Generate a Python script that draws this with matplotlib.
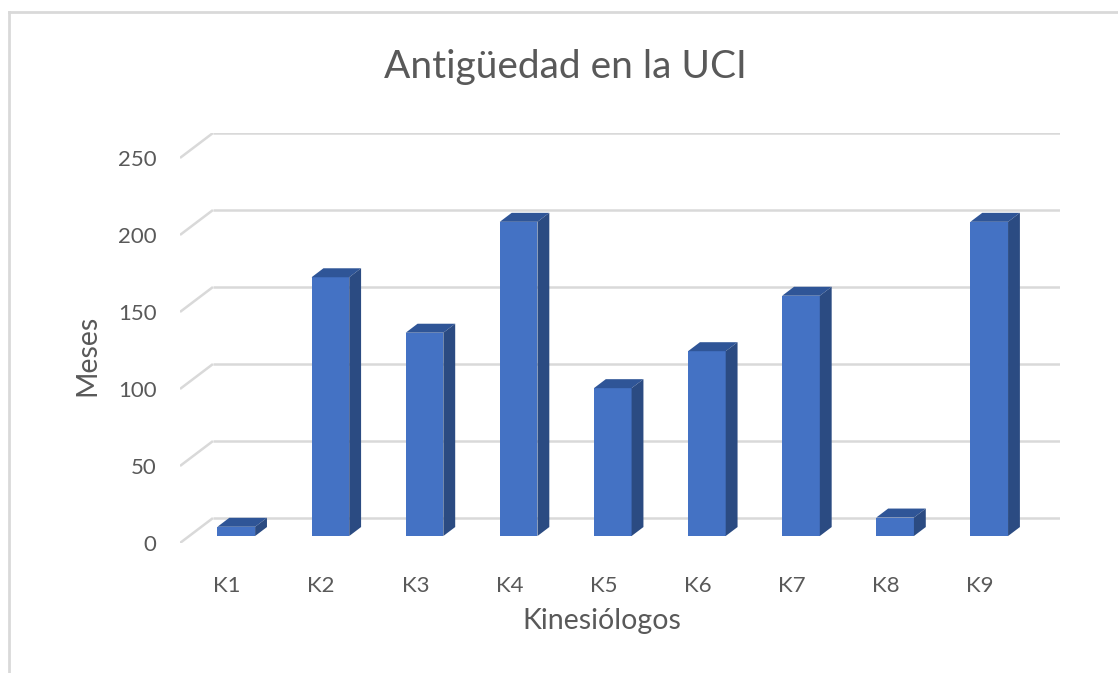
import matplotlib
matplotlib.use('Agg')
import matplotlib.pyplot as plt
from matplotlib.patches import Polygon
from matplotlib.lines import Line2D

## Datos del gráfico
categorias = ['K1', 'K2', 'K3', 'K4', 'K5', 'K6', 'K7', 'K8', 'K9']
meses = [6, 168, 132, 204, 96, 120, 156, 12, 204]
marcas_y = [0, 50, 100, 150, 200, 250]

titulo = 'Antigüedad en la UCI'
etiqueta_x = 'Kinesiólogos'
etiqueta_y = 'Meses'

plt.rcParams['font.family'] = ['Lato', 'DejaVu Sans']

## Parámetros del efecto 3D (profundidad en unidades de datos)
prof_x = 0.35   # desplazamiento horizontal hasta la pared del fondo
prof_y = 16.2   # desplazamiento vertical hasta la pared del fondo
z0, z1 = 0.28, 0.64  # profundidad de la cara frontal y trasera de las barras
ancho = 0.40

azul = '#4472c4'
azul_arriba = '#2f5597'
azul_lado = '#2b4b82'
gris = '#d9d9d9'
texto = '#595959'

W, H = 1118, 673
fig = plt.figure(figsize=(W / 100, H / 100), dpi=100)
ax = fig.add_axes([180 / W, 1 - 543 / H, 880 / W, 410 / H])

n = len(categorias)
x_izq, x_der = -0.5, n - 0.5
ax.set_xlim(x_izq, x_der + prof_x)
ax.set_ylim(0, marcas_y[-1] + prof_y)

## Líneas de la cuadrícula: pared del fondo y pared lateral
for t in marcas_y:
    ax.plot([x_izq + prof_x, x_der + prof_x], [t + prof_y, t + prof_y],
            color=gris, lw=1.8, zorder=0, solid_capstyle='butt')
    ax.plot([x_izq, x_izq + prof_x], [t, t + prof_y],
            color=gris, lw=1.8, zorder=0, solid_capstyle='butt')

## Barras: cara frontal con ax.bar, techo y lado con polígonos
dz = z1 - z0
base = z0 * prof_y
x_frente = [i + z0 * prof_x for i in range(n)]
barras = ax.bar(x_frente, meses, width=ancho, bottom=base, color=azul,
                zorder=2)
for b, v in zip(barras, meses):
    x0 = b.get_x()
    x1 = x0 + b.get_width()
    tope = base + v
    dx, dy = dz * prof_x, dz * prof_y
    techo = Polygon([(x0, tope), (x1, tope), (x1 + dx, tope + dy),
                     (x0 + dx, tope + dy)], closed=True,
                    facecolor=azul_arriba, edgecolor='none', zorder=3)
    lado = Polygon([(x1, base), (x1, tope), (x1 + dx, tope + dy),
                    (x1 + dx, base + dy)], closed=True,
                   facecolor=azul_lado, edgecolor='none', zorder=3)
    ax.add_patch(techo)
    ax.add_patch(lado)

ax.set_yticks(marcas_y)
ax.set_yticklabels([str(t) for t in marcas_y])
ax.set_xticks(range(n))
ax.set_xticklabels(categorias)
ax.tick_params(axis='y', length=0, pad=17, labelsize=16, labelcolor=texto)
ax.tick_params(axis='x', length=0, pad=24, labelsize=16, labelcolor=texto)
for s in ax.spines.values():
    s.set_visible(False)
ax.set_facecolor('none')

fig.text(565 / W, 1 - 67 / H, titulo, ha='center', va='center',
         fontsize=28, color=texto)
fig.text(602 / W, 1 - 621 / H, etiqueta_x, ha='center', va='center',
         fontsize=20.5, color=texto)
fig.text(87 / W, 1 - 355 / H, etiqueta_y, ha='center', va='center',
         rotation=90, fontsize=20.5, color=texto)

## Borde del área del gráfico (solo izquierda y arriba)
fig.add_artist(Line2D([9 / W, 9 / W], [0, 1 - 12 / H], color=gris, lw=2))
fig.add_artist(Line2D([9 / W, 1], [1 - 12 / H, 1 - 12 / H], color=gris, lw=2))

fig.savefig('out.png', dpi=100)
